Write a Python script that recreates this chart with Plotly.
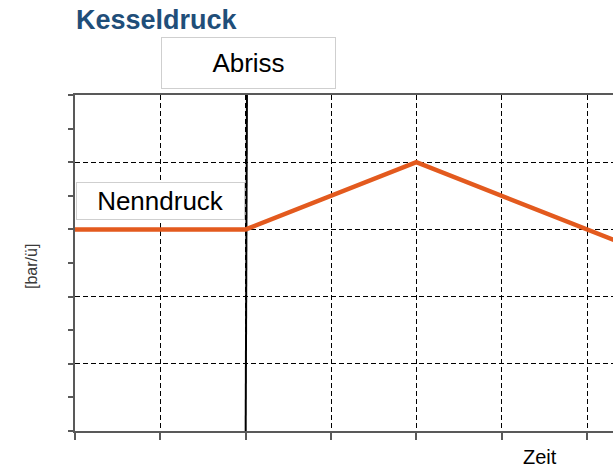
import plotly.graph_objects as go

# --- data ---
zeit = [0, 2, 4, 7]
druck = [3, 3, 4, 2.5]
abriss_x = [2.015, 2.0]
abriss_y = [5, 0]
title_text = "Kesseldruck"
y_label = "[bar/ü]"
x_label = "Zeit"
label_abriss = "Abriss"
label_nenn = "Nenndruck"

FONT = "Liberation Sans, Arial, sans-serif"
AX = "#595959"
FW, FH = 613, 467
L, T, W, H = 75, 95, 538, 336


def px(xp):
    return (xp - L) / W


def py(yp):
    return (T + H - yp) / H


fig = go.Figure()
fig.add_trace(go.Scatter(x=abriss_x, y=abriss_y, mode="lines",
                         line=dict(color="black", width=2), hoverinfo="skip"))
fig.add_trace(go.Scatter(x=zeit, y=druck, mode="lines",
                         line=dict(color="#E35A1E", width=4.5), hoverinfo="skip"))

fig.update_layout(
    width=FW, height=FH,
    margin=dict(l=L, r=FW - L - W, t=T, b=FH - T - H, autoexpand=False),
    paper_bgcolor="white", plot_bgcolor="white",
    showlegend=False,
    font=dict(family=FONT, color="black"),
    xaxis=dict(range=[0, W / (512 / 6)], dtick=1, tick0=0,
               showgrid=True, gridcolor="black", gridwidth=1, griddash="5px,3px",
               showline=True, linecolor=AX, linewidth=2, mirror=True,
               ticks="outside", ticklen=7, tickcolor=AX, tickwidth=1.5,
               showticklabels=False, zeroline=False),
    yaxis=dict(range=[0, 5], dtick=1, tick0=0,
               showgrid=True, gridcolor="black", gridwidth=1, griddash="5px,3px",
               showline=True, linecolor=AX, linewidth=2,
               ticks="outside", ticklen=5, tickcolor=AX, tickwidth=1.5,
               minor=dict(dtick=0.5, ticks="outside", ticklen=5, tickcolor=AX,
                          tickwidth=1.5, showgrid=False),
               showticklabels=False, zeroline=False),
)

fig.add_annotation(x=px(74), y=py(20), xref="paper", yref="paper",
                   text="<b>" + title_text + "</b>",
                   showarrow=False, xanchor="left", yanchor="middle",
                   font=dict(size=27, color="#1F4E79", family=FONT))
fig.add_annotation(x=px(248.5), y=py(63), xref="paper", yref="paper", text=label_abriss,
                   showarrow=False, xanchor="center", yanchor="middle",
                   width=173, height=50, borderpad=0, borderwidth=1,
                   bordercolor="#CFCFCF", bgcolor="white",
                   font=dict(size=26, color="black", family=FONT))
fig.add_annotation(x=px(160.5), y=py(201), xref="paper", yref="paper", text=label_nenn,
                   showarrow=False, xanchor="center", yanchor="middle",
                   width=167, height=36, borderpad=0, borderwidth=1,
                   bordercolor="#CFCFCF", bgcolor="white",
                   font=dict(size=26, color="black", family=FONT))
fig.add_annotation(x=px(31), y=py(267), xref="paper", yref="paper", text=y_label,
                   showarrow=False, textangle=-90, xanchor="center", yanchor="middle",
                   font=dict(size=16, color="#3A3A3A", family=FONT))
fig.add_annotation(x=px(540), y=py(457), xref="paper", yref="paper", text=x_label,
                   showarrow=False, xanchor="center", yanchor="middle",
                   font=dict(size=20, color="black", family=FONT))

fig.write_html(
    "out.html",
    config={"displayModeBar": False},
    post_script="document.body.style.margin='0';document.body.style.overflow='hidden';",
)
